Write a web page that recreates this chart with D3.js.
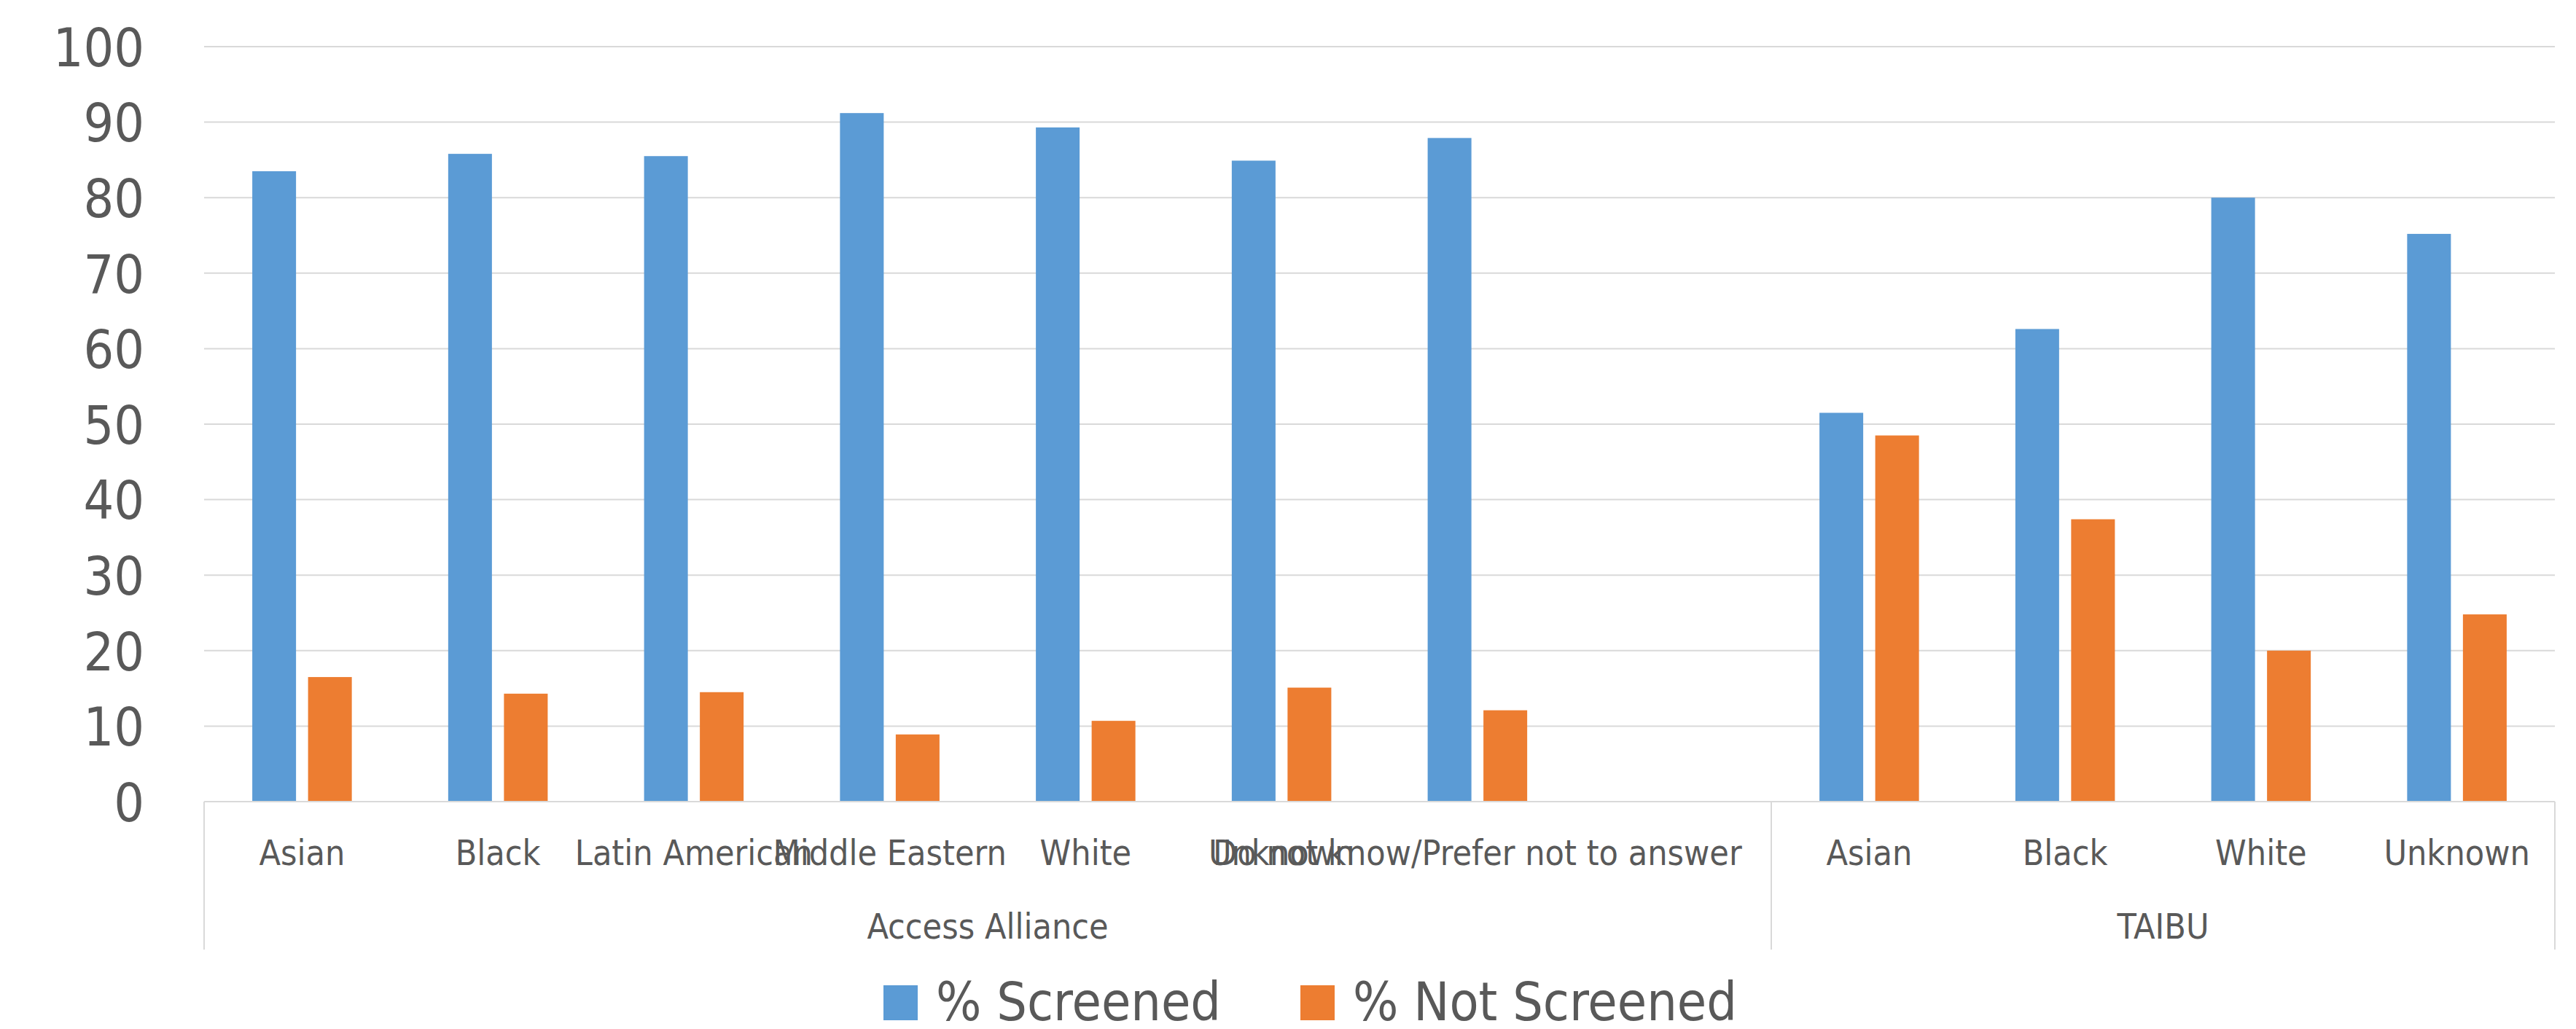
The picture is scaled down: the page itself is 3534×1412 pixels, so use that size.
<!DOCTYPE html>
<html>
<head>
<meta charset="utf-8">
<script src="https://cdn.jsdelivr.net/npm/d3@7"></script>
<style>
  body { margin: 0; background: #fff; }
  svg text { font-family: "DejaVu Sans Condensed", "DejaVu Sans", sans-serif; font-stretch: condensed; fill: #595959; }
</style>
</head>
<body>
<svg id="chart" width="3534" height="1412"></svg>
<script>
// groups and their categories (Access Alliance has one empty slot at the end)
var groups = ['Access Alliance', 'TAIBU'];
var accessCategories = ['Asian', 'Black', 'Latin American', 'Middle Eastern', 'White', 'Unknown', 'Do not know/Prefer not to answer', ''];
var taibuCategories = ['Asian', 'Black', 'White', 'Unknown'];

var seriesNames = ['% Screened', '% Not Screened'];
var seriesColors = ['#5B9BD5', '#ED7D31'];

var accessScreened = [83.5, 85.8, 85.5, 91.2, 89.3, 84.9, 87.9, null];
var accessNotScreened = [16.5, 14.3, 14.5, 8.9, 10.7, 15.1, 12.1, null];
var taibuScreened = [51.5, 62.6, 80.0, 75.2];
var taibuNotScreened = [48.5, 37.4, 20.0, 24.8];

var yTicks = [0, 10, 20, 30, 40, 50, 60, 70, 80, 90, 100];

// flatten into rows the band scale can use
var rows = [];
accessCategories.forEach(function(c, i) {
  rows.push({group: groups[0], label: c, values: [accessScreened[i], accessNotScreened[i]]});
});
taibuCategories.forEach(function(c, i) {
  rows.push({group: groups[1], label: c, values: [taibuScreened[i], taibuNotScreened[i]]});
});
rows.forEach(function(r, i) { r.idx = i; });

var plotLeft = 280, plotRight = 3505, plotTop = 64, plotBottom = 1100;

var svg = d3.select('#chart');

var x = d3.scaleBand()
  .domain(rows.map(function(r) { return r.idx; }))
  .range([plotLeft, plotRight])
  .padding(0);

var x1 = d3.scaleBand()
  .domain([0, 1])
  .range([0, x.bandwidth()])
  .paddingInner(0.2157)
  .paddingOuter(0.864);

var y = d3.scaleLinear().domain([0, 100]).range([plotBottom, plotTop]);

// gridlines
svg.append('g')
  .selectAll('line')
  .data(yTicks)
  .enter().append('line')
  .attr('x1', plotLeft)
  .attr('x2', plotRight)
  .attr('y1', function(d) { return y(d); })
  .attr('y2', function(d) { return y(d); })
  .attr('stroke', '#d9d9d9')
  .attr('stroke-width', 2);

// y axis labels
var yAxis = d3.axisLeft(y).tickValues(yTicks).tickSize(0).tickPadding(0);
var gy = svg.append('g')
  .attr('transform', 'translate(198,0)')
  .call(yAxis);
gy.select('.domain').remove();
gy.selectAll('text')
  .attr('font-size', 73)
  .attr('dy', '0.36em')
  .style('fill', '#595959');

// bars
var cat = svg.append('g')
  .selectAll('g')
  .data(rows)
  .enter().append('g')
  .attr('transform', function(d) { return 'translate(' + x(d.idx) + ',0)'; });

cat.selectAll('rect')
  .data(function(d) {
    return d.values.map(function(v, i) { return {s: i, v: v}; })
      .filter(function(e) { return e.v !== null; });
  })
  .enter().append('rect')
  .attr('x', function(d) { return x1(d.s); })
  .attr('width', x1.bandwidth())
  .attr('y', function(d) { return y(d.v); })
  .attr('height', function(d) { return y(0) - y(d.v); })
  .attr('fill', function(d) { return seriesColors[d.s]; });

// category axis with group separators
var sepBottom = 1303;
var groupSpans = groups.map(function(g) {
  var r = rows.filter(function(d) { return d.group === g; });
  return {name: g, x0: x(r[0].idx), x1: x(r[r.length - 1].idx) + x.bandwidth()};
});

svg.append('line')
  .attr('x1', plotLeft).attr('x2', plotRight)
  .attr('y1', plotBottom).attr('y2', plotBottom)
  .attr('stroke', '#d9d9d9').attr('stroke-width', 2);

var seps = [plotLeft].concat(groupSpans.map(function(g) { return g.x1; }));
svg.append('g')
  .selectAll('line')
  .data(seps)
  .enter().append('line')
  .attr('x1', function(d) { return d; })
  .attr('x2', function(d) { return d; })
  .attr('y1', plotBottom)
  .attr('y2', sepBottom)
  .attr('stroke', '#d9d9d9')
  .attr('stroke-width', 2);

svg.append('g')
  .selectAll('text')
  .data(rows)
  .enter().append('text')
  .attr('x', function(d) { return x(d.idx) + x.bandwidth() / 2; })
  .attr('y', 1187)
  .attr('text-anchor', 'middle')
  .attr('font-size', 48)
  .text(function(d) { return d.label; });

svg.append('g')
  .selectAll('text')
  .data(groupSpans)
  .enter().append('text')
  .attr('x', function(d) { return (d.x0 + d.x1) / 2; })
  .attr('y', 1288)
  .attr('text-anchor', 'middle')
  .attr('font-size', 48)
  .text(function(d) { return d.name; });

// legend
var legendX = [1212, 1784];
var leg = svg.append('g')
  .selectAll('g')
  .data(seriesNames)
  .enter().append('g')
  .attr('transform', function(d, i) { return 'translate(' + legendX[i] + ',0)'; });

leg.append('rect')
  .attr('x', 0).attr('y', 1352)
  .attr('width', 47).attr('height', 48)
  .attr('fill', function(d, i) { return seriesColors[i]; });

leg.append('text')
  .attr('x', 72)
  .attr('y', 1400)
  .attr('font-size', 73)
  .text(function(d) { return d; });
</script>
</body>
</html>
